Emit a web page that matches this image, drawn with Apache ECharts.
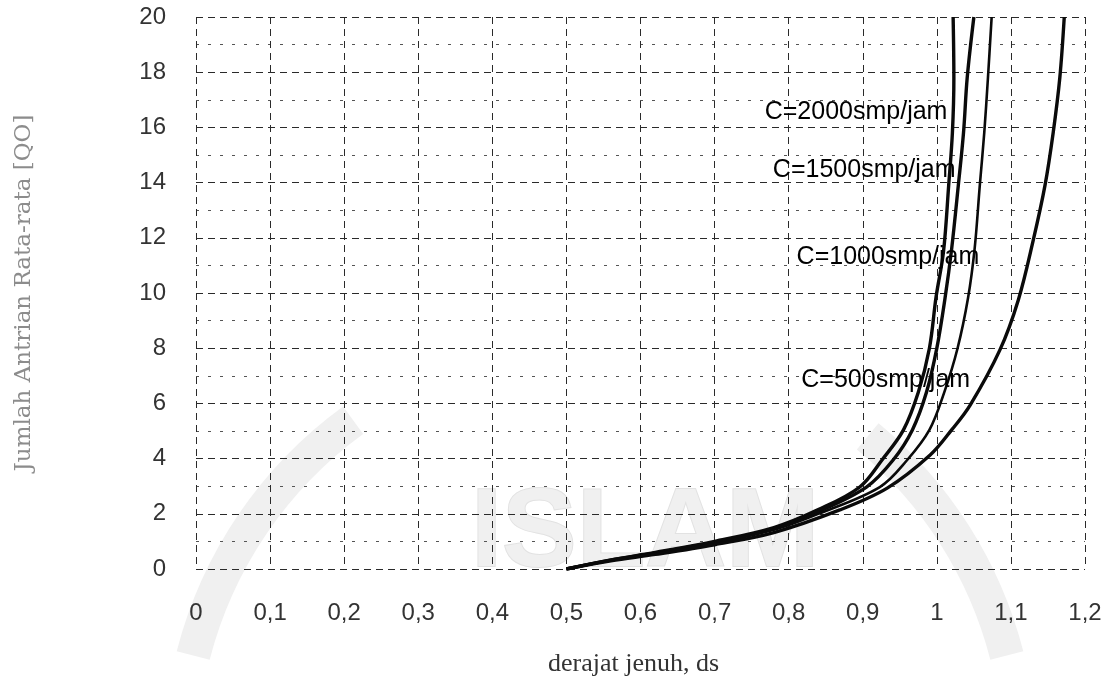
<!DOCTYPE html>
<html>
<head>
<meta charset="utf-8">
<script src="https://cdn.jsdelivr.net/npm/echarts@6/dist/echarts.min.js"></script>
<style>
  html, body { margin: 0; padding: 0; background: #ffffff; }
  #chart { width: 1104px; height: 687px; }
</style>
</head>
<body>
<div id="chart"></div>
<script>
// Degree of saturation (ds) and average queue (QO) for each capacity C
const ds2000 = [0.50, 0.56, 0.62, 0.70, 0.78, 0.84, 0.896, 0.926, 0.955, 0.975, 0.990, 0.999, 1.009, 1.016, 1.021, 1.023, 1.022];
const qo2000 = [0.00, 0.33, 0.60, 1.00, 1.50, 2.15, 2.97, 3.95, 5.04, 6.40, 8.00, 9.86, 11.5, 13.9, 15.8, 17.8, 20.0];

const ds1500 = [0.50, 0.56, 0.62, 0.70, 0.78, 0.84, 0.905, 0.941, 0.967, 0.986, 1.000, 1.011, 1.020, 1.029, 1.036, 1.041, 1.050];
const qo1500 = [0.00, 0.32, 0.58, 0.97, 1.46, 2.08, 2.97, 3.95, 5.04, 6.40, 8.00, 9.80, 11.6, 13.9, 15.8, 17.8, 20.0];

const ds1000 = [0.50, 0.56, 0.62, 0.70, 0.78, 0.84, 0.923, 0.960, 0.990, 1.010, 1.028, 1.042, 1.051, 1.058, 1.064, 1.069, 1.074];
const qo1000 = [0.00, 0.31, 0.56, 0.94, 1.42, 2.00, 2.97, 3.95, 5.04, 6.40, 8.00, 9.80, 11.6, 13.9, 15.8, 17.8, 20.0];

const ds500 = [0.50, 0.56, 0.62, 0.70, 0.78, 0.869, 0.933, 0.991, 1.020, 1.045, 1.085, 1.110, 1.130, 1.146, 1.157, 1.166, 1.172];
const qo500 = [0.00, 0.30, 0.53, 0.88, 1.32, 2.14, 2.93, 4.13, 5.04, 5.94, 7.93, 9.75, 11.9, 13.9, 15.8, 17.8, 20.0];

const curveNames = ['C=2000smp/jam', 'C=1500smp/jam', 'C=1000smp/jam', 'C=500smp/jam'];
const xTicks = ['0', '0,1', '0,2', '0,3', '0,4', '0,5', '0,6', '0,7', '0,8', '0,9', '1', '1,1', '1,2'];
const yTicks = ['0', '2', '4', '6', '8', '10', '12', '14', '16', '18', '20'];

const pairs = (xs, ys) => xs.map((x, i) => [x, ys[i]]);
const curves = [
  pairs(ds2000, qo2000),
  pairs(ds1500, qo1500),
  pairs(ds1000, qo1000),
  pairs(ds500, qo500)
];

// where each capacity caption sits, in axis units
const captionAt = [[0.891, 16.55], [0.902, 14.45], [0.934, 11.3], [0.931, 6.85]];

const chart = echarts.init(document.getElementById('chart'), null, { renderer: 'canvas' });

const gridLine = { color: '#2a2a2a', width: 1, type: [7, 5] };

const option = {
  backgroundColor: '#ffffff',
  animation: false,
  grid: { left: 196, right: 19, top: 17, bottom: 118, containLabel: false, outerBoundsMode: 'none' },
  graphic: [
    {
      type: 'text', z: -10, left: 470, top: 478,
      style: { text: 'ISLAM', fill: '#f0f0f0', stroke: '#e2e2e2', lineWidth: 2, font: 'bold 112px "Liberation Sans"' }
    },
    {
      type: 'arc', z: -10,
      shape: { cx: 600, cy: 760, r: 420, startAngle: Math.PI * 1.08, endAngle: Math.PI * 1.3 },
      style: { stroke: '#f0f0f0', lineWidth: 34, fill: null }
    },
    {
      type: 'arc', z: -10,
      shape: { cx: 600, cy: 760, r: 420, startAngle: Math.PI * 1.72, endAngle: Math.PI * 1.92 },
      style: { stroke: '#f0f0f0', lineWidth: 34, fill: null }
    }
  ],
  xAxis: {
    type: 'value', min: 0, max: 1.2, interval: 0.1,
    name: 'derajat jenuh, ds', nameLocation: 'middle', nameGap: 82,
    nameTextStyle: { fontFamily: '"Liberation Serif", "DejaVu Serif", serif', fontSize: 26, color: '#333', padding: [0, 0, 0, -14] },
    axisLine: { show: false }, axisTick: { show: false },
    axisLabel: {
      margin: 32, fontSize: 24, color: '#333', fontFamily: '"Liberation Sans", Arial, sans-serif',
      formatter: (v) => xTicks[Math.round(v * 10)]
    },
    splitLine: { show: true, lineStyle: gridLine }
  },
  yAxis: {
    type: 'value', min: 0, max: 20, interval: 2,
    name: 'Jumlah Antrian Rata-rata [QO]', nameLocation: 'middle', nameGap: 160, nameRotate: 90,
    nameTextStyle: { fontFamily: '"DejaVu Serif", serif', fontSize: 23, color: '#8c8c8c' },
    axisLine: { show: false }, axisTick: { show: false },
    axisLabel: {
      margin: 30, fontSize: 24, color: '#333', fontFamily: '"Liberation Sans", Arial, sans-serif',
      formatter: (v) => yTicks[Math.round(v / 2)]
    },
    splitLine: { show: true, lineStyle: gridLine },
    minorTick: { show: false, splitNumber: 2 },
    minorSplitLine: { show: true, lineStyle: { color: '#555', width: 1, type: [3, 9] } }
  },
  series: curves.map((pts, i) => ({
    name: curveNames[i],
    type: 'line',
    data: pts,
    smooth: 0.35,
    showSymbol: false,
    symbol: 'none',
    clip: true,
    lineStyle: { color: '#0a0a0a', width: i === 2 ? 2.6 : 3.4 },
    z: 3
  })).concat([{
    type: 'scatter',
    symbolSize: 1,
    itemStyle: { color: 'rgba(0,0,0,0)' },
    silent: true,
    z: 4,
    data: captionAt.map((c, i) => ({ value: c, name: curveNames[i] })),
    label: {
      show: true, position: 'inside',
      formatter: (p) => p.name,
      fontFamily: '"Liberation Sans", Arial, sans-serif',
      fontSize: 25, color: '#000', textBorderWidth: 0, opacity: 1
    }
  }])
};

chart.setOption(option);
</script>
</body>
</html>
